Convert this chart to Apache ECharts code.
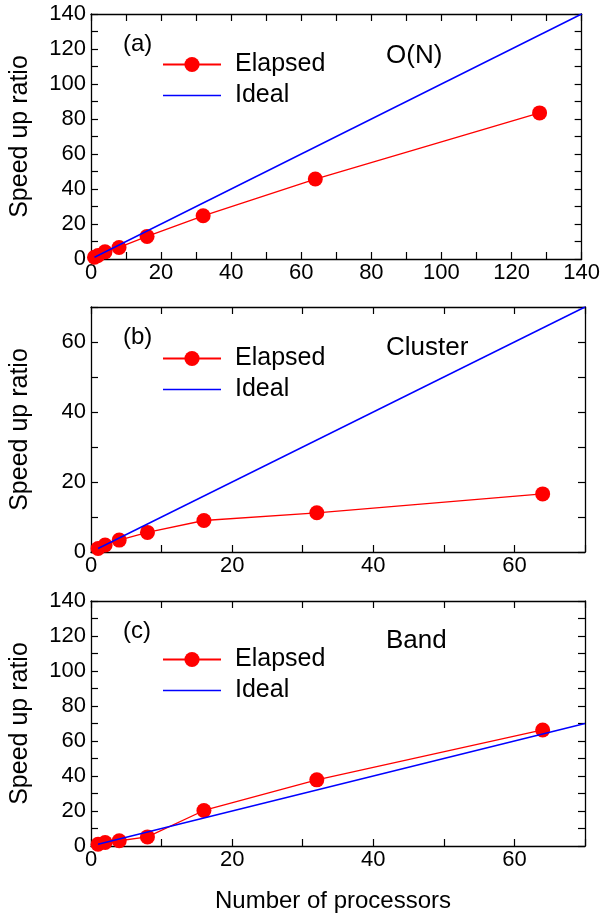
<!DOCTYPE html>
<html><head><meta charset="utf-8">
<script src="https://cdn.jsdelivr.net/npm/echarts@6/dist/echarts.min.js"></script>
<style>html,body{margin:0;padding:0;background:#fff}#c{width:603px;height:918px}</style>
</head><body><div id="c"></div>
<script>
// ---- data ----
const procsA = [1, 2, 4, 8, 16, 32, 64, 128];
const elapsedA = [1, 2, 4.1, 6.6, 12.9, 24.7, 45.7, 83.5];
const idealA = [[1, 1], [140, 140]];

const procsB = [1, 2, 4, 8, 16, 32, 64];
const elapsedB = [1, 2, 3.4, 5.6, 9.0, 11.2, 16.6];
const idealB = [[1, 1], [70, 70]];

const procsC = [1, 2, 4, 8, 16, 32, 64];
const elapsedC = [1, 2, 3, 5.2, 20.3, 37.8, 66.3];
const idealC = [[1, 1], [70, 70]];

const xMaxes = [140, 70, 70];
const yMaxes = [140, 70, 140];
const panelTags = ['(a)', '(b)', '(c)'];
const panelNames = ['O(N)', 'Cluster', 'Band'];
const yTitle = 'Speed up ratio';
const xTitle = 'Number of processors';
const legendNames = ['Elapsed', 'Ideal'];

// ---- layout ----
const FONT = 'Liberation Sans, Arial, sans-serif';
const gridTops = [14, 307, 601];
const gridH = 245;
const tagY = [45, 338, 632];
const nameY = [57, 349, 642];
const legendTops = [52, 346, 647];

const procs = [procsA, procsB, procsC];
const elapsed = [elapsedA, elapsedB, elapsedC];
const ideals = [idealA, idealB, idealC];

const chart = echarts.init(document.getElementById('c'), null, {renderer: 'canvas'});

const grids = [], xAxes = [], yAxes = [], series = [], legends = [], graphics = [];
const axisLine = {show: true, onZero: false, lineStyle: {color: '#000', width: 1.3}};
const tick = {show: true, inside: true, length: 7, lineStyle: {color: '#000', width: 1.2}};
const fmt = v => (v % 20 === 0 ? String(v) : '');

for (let i = 0; i < 3; i++) {
  grids.push({left: 91, right: 18, top: gridTops[i], height: gridH, containLabel: false});
  const xb = {
    type: 'value', gridIndex: i, position: 'bottom', min: 0, max: xMaxes[i], interval: 10,
    axisLine, axisTick: tick, splitLine: {show: false},
    axisLabel: {formatter: fmt, color: '#000', fontFamily: FONT, fontSize: 22, margin: 3,
                showMinLabel: true, showMaxLabel: true}
  };
  if (i === 2) {
    xb.name = xTitle; xb.nameLocation = 'middle'; xb.nameGap = 43;
    xb.nameTextStyle = {color: '#000', fontFamily: FONT, fontSize: 24, padding: [0, 10, 0, 0]};
  }
  xAxes.push(xb);
  xAxes.push({
    type: 'value', gridIndex: i, position: 'top', min: 0, max: xMaxes[i], interval: 10,
    axisLine, axisTick: tick, axisLabel: {show: false}, splitLine: {show: false}
  });
  yAxes.push({
    type: 'value', gridIndex: i, position: 'left', min: 0, max: yMaxes[i], interval: 10,
    axisLine, axisTick: tick, splitLine: {show: false},
    axisLabel: {formatter: fmt, color: '#000', fontFamily: FONT, fontSize: 22, margin: 5},
    name: yTitle, nameLocation: 'middle', nameGap: 58,
    nameTextStyle: {color: '#000', fontFamily: FONT, fontSize: 25}
  });
  yAxes.push({
    type: 'value', gridIndex: i, position: 'right', min: 0, max: yMaxes[i], interval: 10,
    axisLine, axisTick: tick, axisLabel: {show: false}, splitLine: {show: false}
  });
  series.push({
    name: legendNames[0], type: 'line', xAxisIndex: 2 * i, yAxisIndex: 2 * i,
    data: procs[i].map((p, k) => [p, elapsed[i][k]]),
    symbol: 'circle', symbolSize: 15, showSymbol: true,
    itemStyle: {color: '#ff0000'}, lineStyle: {color: '#ff0000', width: 1.3},
    animation: false, silent: true, z: 2
  });
  series.push({
    name: legendNames[1], type: 'line', xAxisIndex: 2 * i, yAxisIndex: 2 * i,
    data: ideals[i], symbol: 'none',
    itemStyle: {color: '#0000ff'}, lineStyle: {color: '#0000ff', width: 1.4},
    animation: false, silent: true, z: 3
  });
  legends.push({
    orient: 'vertical', left: 162, top: legendTops[i], padding: 0, itemGap: 6,
    itemWidth: 58, itemHeight: 19, selectedMode: false, symbolKeepAspect: true,
    data: [
      {name: legendNames[0]},
      {name: legendNames[1], icon: 'path://M0,0 L58,0 L58,1.5 L0,1.5 Z', itemStyle: {color: '#0000ff'}}
    ],
    textStyle: {color: '#000', fontFamily: FONT, fontSize: 25, padding: [0, 0, 0, 9]}
  });
  graphics.push({
    type: 'text', left: 123, top: tagY[i] - 13,
    style: {text: panelTags[i], fill: '#000', font: '24px ' + FONT}
  });
  graphics.push({
    type: 'text', left: 386, top: nameY[i] - 14,
    style: {text: panelNames[i], fill: '#000', font: '26px ' + FONT}
  });
}

chart.setOption({
  backgroundColor: '#fff',
  animation: false,
  grid: grids, xAxis: xAxes, yAxis: yAxes, series, legend: legends, graphic: graphics
});
</script></body></html>
